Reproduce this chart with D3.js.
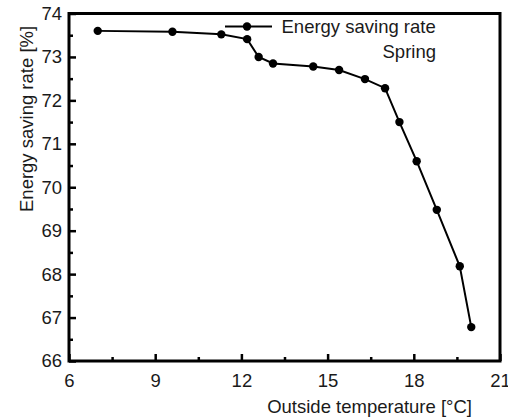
<!DOCTYPE html>
<html>
<head>
<meta charset="utf-8">
<script src="https://cdn.jsdelivr.net/npm/d3@7"></script>
<style>
  html, body { margin: 0; padding: 0; background: #fff; }
  text { font-family: Arial, "Liberation Sans", Helvetica, sans-serif; fill: #1a1a1a; }
</style>
</head>
<body>
<div id="chart"></div>
<script>
// Chart size, same as the window.
var width = 508;
var height = 417;

// Plot area edges in pixels.
var m = { left: 69, right: 500, top: 13.5, bottom: 361 };
var fontSize = "18.5px";

// Data.
var temperature = [7.0, 9.6, 11.3, 12.2, 12.6, 13.1, 14.5, 15.4, 16.3, 17.0, 17.5, 18.1, 18.8, 19.6, 20.0];
var savingRate = [73.6, 73.58, 73.52, 73.41, 73.0, 72.85, 72.78, 72.7, 72.49, 72.28, 71.5, 70.6, 69.48, 68.18, 66.78];

var xTicks = [6, 9, 12, 15, 18, 21];
var xMinor = [7.5, 10.5, 13.5, 16.5, 19.5];
var yTicks = [66, 67, 68, 69, 70, 71, 72, 73, 74];
var yMinor = [66.5, 67.5, 68.5, 69.5, 70.5, 71.5, 72.5, 73.5];

var svg = d3.select("#chart").append("svg")
    .attr("width", width)
    .attr("height", height);

var x = d3.scaleLinear().domain([6, 21]).range([m.left, m.right]);
var y = d3.scaleLinear().domain([66, 74]).range([m.bottom, m.top]);

// Inward ticks on bottom and left, major then minor.
var xAxis = svg.append("g")
    .attr("transform", "translate(0," + m.bottom + ")")
    .call(d3.axisBottom(x).tickValues(xTicks).tickSize(-7).tickPadding(13).tickFormat(d3.format("d")));
xAxis.append("g")
    .call(d3.axisBottom(x).tickValues(xMinor).tickSize(-4).tickFormat(""));

var yAxis = svg.append("g")
    .attr("transform", "translate(" + m.left + ",0)")
    .call(d3.axisLeft(y).tickValues(yTicks).tickSize(-7).tickPadding(7).tickFormat(d3.format("d")));
yAxis.append("g")
    .call(d3.axisLeft(y).tickValues(yMinor).tickSize(-4).tickFormat(""));

svg.selectAll(".domain").remove();
svg.selectAll(".tick line").attr("stroke", "#000").attr("stroke-width", 2.5);
svg.selectAll(".tick text").style("font-size", fontSize).attr("fill", "#1a1a1a");

// Frame around the plot.
svg.append("rect")
    .attr("x", m.left)
    .attr("y", m.top)
    .attr("width", m.right - m.left)
    .attr("height", m.bottom - m.top)
    .attr("fill", "none")
    .attr("stroke", "#000")
    .attr("stroke-width", 3);

// The series.
var pts = temperature.map(function(t, i) { return [t, savingRate[i]]; });

svg.append("path")
    .datum(pts)
    .attr("fill", "none")
    .attr("stroke", "#000")
    .attr("stroke-width", 2)
    .attr("d", d3.line()
        .x(function(d) { return x(d[0]); })
        .y(function(d) { return y(d[1]); }));

svg.selectAll("circle.pt")
    .data(pts)
    .enter().append("circle")
    .attr("class", "pt")
    .attr("cx", function(d) { return x(d[0]); })
    .attr("cy", function(d) { return y(d[1]); })
    .attr("r", 4.2)
    .attr("fill", "#000");

// Legend.
var leg = svg.append("g");
leg.append("line")
    .attr("x1", 225).attr("x2", 272)
    .attr("y1", 26.5).attr("y2", 26.5)
    .attr("stroke", "#000").attr("stroke-width", 2);
leg.append("circle")
    .attr("cx", 247).attr("cy", 26.5).attr("r", 4.2).attr("fill", "#000");
leg.append("text")
    .attr("x", 281.5).attr("y", 33)
    .style("font-size", fontSize)
    .text("Energy saving rate");
leg.append("text")
    .attr("x", 436).attr("y", 58)
    .attr("text-anchor", "end")
    .style("font-size", fontSize)
    .text("Spring");

// Axis titles.
svg.append("text")
    .attr("x", 472).attr("y", 413)
    .attr("text-anchor", "end")
    .style("font-size", fontSize)
    .text("Outside temperature [°C]");

svg.append("text")
    .attr("transform", "translate(33,212) rotate(-90)")
    .style("font-size", fontSize)
    .text("Energy saving rate [%]");
</script>
</body>
</html>
